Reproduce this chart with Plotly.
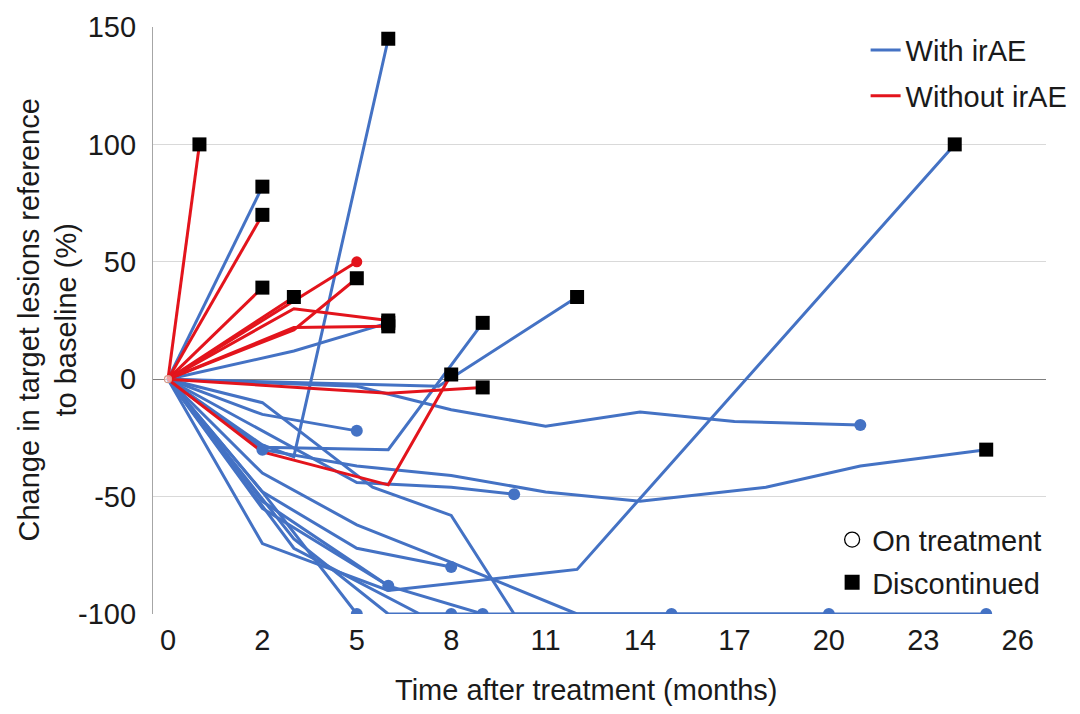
import plotly.graph_objects as go

# ---- axis labels ----
tick_vals = [-1, 2, 5, 8, 11, 14, 17, 20, 23, 26]
tick_text = ["0", "2", "5", "8", "11", "14", "17", "20", "23", "26"]
y_ticks = [-100, -50, 0, 50, 100, 150]
y_tick_text = ["-100", "-50", "0", "50", "100", "150"]

# ---- patients with irAE (times on the chart's month axis, change in %) ----
with_times = [
    [-1, 2],
    [-1, 2, 3, 6],
    [-1, 3, 6],
    [-1, 7.6, 12],
    [-1, 2, 6, 9],
    [-1, 5, 8, 11, 14, 17, 21],
    [-1, 2, 5],
    [-1, 2, 5, 8, 11, 14, 18, 21, 25],
    [-1, 5, 8, 10],
    [-1, 2, 5.5, 8, 10, 15],
    [-1, 2, 6, 12, 24],
    [-1, 2, 5, 8],
    [-1, 2, 5],
    [-1, 3, 6, 8],
    [-1, 2, 6, 9],
    [-1, 2, 6],
    [-1, 2, 5, 8, 12, 20],
    [-1, 3, 7, 12, 25],
    [-1, 2],
]
with_values = [
    [0, 82],
    [0, -28, -33, 145],
    [0, 12, 24],
    [0, -3, 35],
    [0, -29, -30, 24],
    [0, -3, -13, -20, -14, -18, -19.5],
    [0, -15, -22],
    [0, -30, -37, -41, -48, -52, -46, -37, -30],
    [0, -44, -46, -49],
    [0, -10, -46, -58, -100, -100],
    [0, -70, -90, -81, 100],
    [0, -48, -72, -80],
    [0, -48, -100],
    [0, -68, -100, -100],
    [0, -52, -88, -100],
    [0, -55, -88],
    [0, -40, -62, -78, -100, -100],
    [0, -72, -100, -100, -100],
    [0, -30],
]
with_status = ["D", "D", "D", "D", "D", "T", "T", "D", "T", "T",
               "D", "T", "T", "T", "T", "T", "T", "T", "T"]

# ---- patients without irAE ----
without_times = [
    [-1, 0],
    [-1, 2],
    [-1, 2],
    [-1, 3],
    [-1, 3, 6],
    [-1, 3, 6],
    [-1, 3, 5],
    [-1, 5],
    [-1, 6, 9],
    [-1, 2, 6, 8],
]
without_values = [
    [0, 100],
    [0, 70],
    [0, 39],
    [0, 35],
    [0, 30, 25],
    [0, 22, 22.5],
    [0, 21, 43],
    [0, 50],
    [0, -6, -3.5],
    [0, -31, -45, 2],
]
without_status = ["D", "D", "D", "D", "D", "D", "D", "T", "D", "D"]

BLUE = "#4472C4"
RED = "#E3141C"
FONT = "Liberation Sans, Arial, sans-serif"
FS = 29

fig = go.Figure()

# lines
for i, (t, v) in enumerate(zip(with_times, with_values)):
    fig.add_trace(go.Scatter(x=t, y=v, mode="lines", line=dict(color=BLUE, width=3),
                             name="With irAE", legendgroup="with", legend="legend",
                             showlegend=(i == 0), hoverinfo="skip"))
for i, (t, v) in enumerate(zip(without_times, without_values)):
    fig.add_trace(go.Scatter(x=t, y=v, mode="lines", line=dict(color=RED, width=3),
                             name="Without irAE", legendgroup="without", legend="legend",
                             showlegend=(i == 0), hoverinfo="skip"))

# end markers
def ends(times, values, status, code):
    xs = [t[-1] for t, s in zip(times, status) if s == code]
    ys = [v[-1] for v, s in zip(values, status) if s == code]
    return xs, ys

wx, wy = ends(with_times, with_values, with_status, "T")
fig.add_trace(go.Scatter(x=wx, y=wy, mode="markers", showlegend=False,
                         marker=dict(symbol="circle", size=12, color=BLUE)))
rx, ry = ends(without_times, without_values, without_status, "T")
fig.add_trace(go.Scatter(x=rx, y=ry, mode="markers", showlegend=False,
                         marker=dict(symbol="circle", size=11, color=RED)))
dx1, dy1 = ends(with_times, with_values, with_status, "D")
dx2, dy2 = ends(without_times, without_values, without_status, "D")
fig.add_trace(go.Scatter(x=dx1 + dx2, y=dy1 + dy2, mode="markers", showlegend=False,
                         marker=dict(symbol="square", size=14, color="black")))
# baseline marker
fig.add_trace(go.Scatter(x=[-1], y=[0], mode="markers", showlegend=False,
                         marker=dict(symbol="circle", size=7, color="rgba(255,255,255,0.6)",
                                     line=dict(color="#D49A8A", width=1.2))))

# status legend entries
fig.add_trace(go.Scatter(x=[None], y=[None], mode="markers", name="On treatment",
                         legend="legend2", legendgroup="on",
                         marker=dict(symbol="circle-open", size=15, color="black",
                                     line=dict(width=1.3))))
fig.add_trace(go.Scatter(x=[None], y=[None], mode="markers", name="Discontinued",
                         legend="legend2", legendgroup="off",
                         marker=dict(symbol="square", size=15, color="black")))

fig.update_layout(
    width=1080, height=714,
    margin=dict(l=153, r=34, t=27, b=100, autoexpand=False),
    paper_bgcolor="white", plot_bgcolor="white",
    font=dict(family=FONT, size=FS, color="#1a1a1a"),
    xaxis=dict(range=[-1.476, 26.9], tickvals=tick_vals, ticktext=tick_text,
               showgrid=False, zeroline=False, showline=False, ticks="",
               ticklabelstandoff=6, tickfont=dict(size=FS), fixedrange=True,
               automargin=False),
    yaxis=dict(range=[-100, 150], tickvals=y_ticks, ticktext=y_tick_text, showgrid=True,
               gridcolor="#d9d9d9", gridwidth=1.2, zeroline=True,
               zerolinecolor="#7f7f7f", zerolinewidth=1.3,
               showline=True, linecolor="#a6a6a6", linewidth=1.3,
               ticks="", ticklabelstandoff=10, tickfont=dict(size=FS), fixedrange=True,
               automargin=False),
    legend=dict(x=0.798, y=1.004, xanchor="left", yanchor="top",
                font=dict(size=FS), bgcolor="rgba(0,0,0,0)",
                tracegroupgap=5, traceorder="grouped", itemwidth=30),
    legend2=dict(x=0.7605, y=0.170, xanchor="left", yanchor="top",
                 font=dict(size=FS), bgcolor="rgba(0,0,0,0)",
                 tracegroupgap=2, traceorder="grouped"),
    annotations=[
        dict(text="Time after treatment (months)", xref="paper", yref="paper",
             x=0.485, y=0, yshift=-76, xanchor="center", yanchor="middle",
             showarrow=False, font=dict(size=FS)),
        dict(text="Change in target lesions reference<br>to baseline (%)",
             xref="paper", yref="paper", x=0, xshift=-106, y=0.5,
             xanchor="center", yanchor="middle", textangle=-90,
             showarrow=False, font=dict(size=FS)),
    ],
)

fig.write_html("out.html")
